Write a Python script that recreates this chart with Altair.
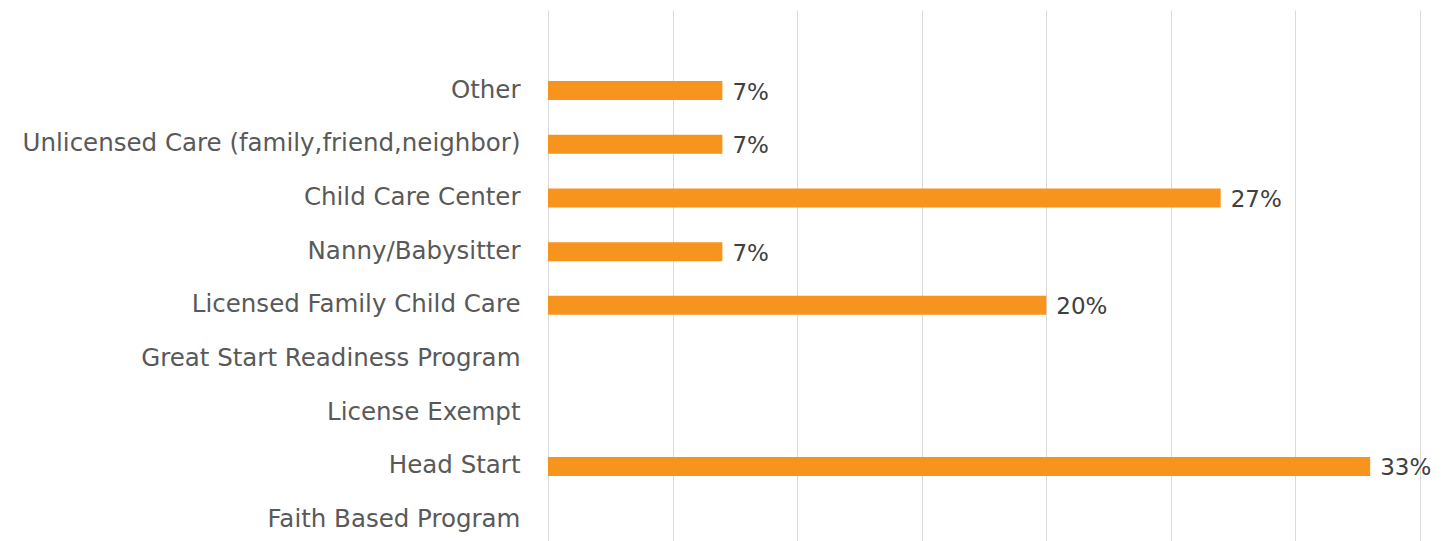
import altair as alt
import pandas as pd

categories = [
    "Other",
    "Unlicensed Care (family,friend,neighbor)",
    "Child Care Center",
    "Nanny/Babysitter",
    "Licensed Family Child Care",
    "Great Start Readiness Program",
    "License Exempt",
    "Head Start",
    "Faith Based Program",
]
values = [7, 7, 27, 7, 20, 0, 0, 33, 0]
x_ticks = [0, 5, 10, 15, 20, 25, 30, 35]

df = pd.DataFrame({"category": categories, "value": values})
domain = [""] + categories

y = alt.Y(
    "category:N",
    sort=domain,
    scale=alt.Scale(domain=domain, paddingInner=0.647, paddingOuter=0.3235),
    axis=alt.Axis(
        title=None, domain=False, ticks=False, labelFontSize=24.5,
        labelColor="#595959", labelFont="DejaVu Sans", labelPadding=28,
        labelLimit=700,
    ),
)
x = alt.X(
    "value:Q",
    scale=alt.Scale(domain=[0, 35], nice=False, zero=True),
    axis=alt.Axis(
        title=None, values=x_ticks, labels=False, ticks=False, domain=False,
        gridColor="#d9d9d9", gridWidth=1,
    ),
)

bars = alt.Chart(df).mark_bar(color="#F7941E").encode(x=x, y=y)
text = (
    alt.Chart(df)
    .transform_filter("datum.value > 0")
    .transform_calculate(label="datum.value + '%'")
    .mark_text(align="left", baseline="middle", dx=10, dy=2, fontSize=23,
               color="#404040", font="DejaVu Sans")
    .encode(x=x, y=y, text="label:N")
)

chart = (
    alt.layer(bars, text)
    .properties(
        width=872,
        height=537,
        autosize=alt.AutoSizeParams(type="none"),
        padding={"left": 540, "top": 2, "right": 24, "bottom": -6},
    )
    .configure_view(stroke=None)
)

chart.save("out.html", embed_options={"renderer": "svg", "actions": False})
